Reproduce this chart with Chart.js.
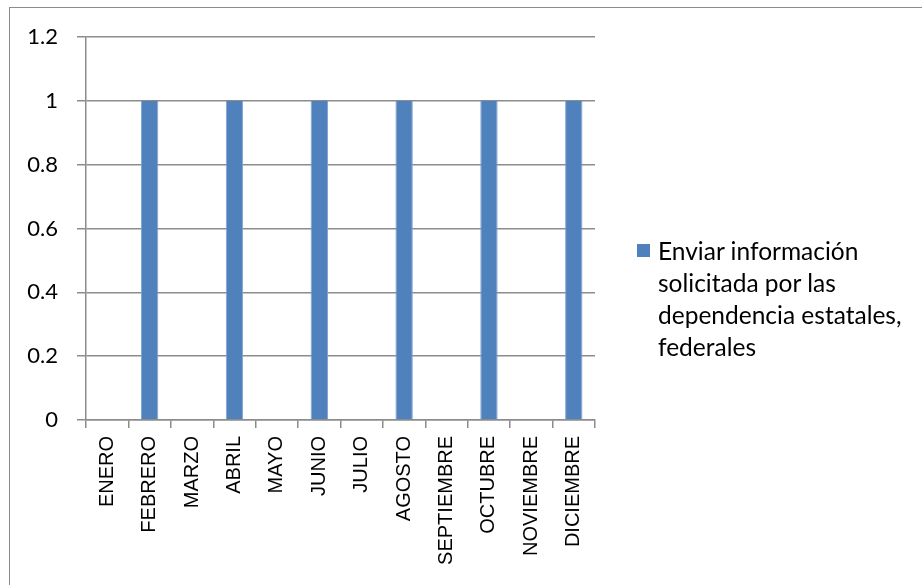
<!DOCTYPE html>
<html>
<head>
<meta charset="utf-8">
<script src="https://cdn.jsdelivr.net/npm/chart.js@4/dist/chart.umd.min.js"></script>
<style>
  html, body { margin: 0; padding: 0; background: #fff; }
  #wrap { position: relative; width: 922px; height: 585px; overflow: hidden; }
  #frame { position: absolute; left: 9px; top: 7px; width: 1000px; height: 700px;
           border-top: 1.5px solid #8c8c8c; border-left: 1.5px solid #8c8c8c; }
  #chart { position: absolute; left: 0; top: 0; }
  #legend { position: absolute; left: 637px; top: 235px; width: 280px;
            font-family: Lato, "Open Sans", sans-serif; font-size: 24.5px; line-height: 32px; color: #000; }
  #legend .item { position: relative; padding-left: 21px; }
  #legend .box { position: absolute; left: 0; top: 9px; width: 13px; height: 13px; }
</style>
</head>
<body>
<div id="wrap">
  <div id="frame"></div>
  <canvas id="chart" width="922" height="585"></canvas>
  <div id="legend"></div>
</div>
<script>
const months = ['ENERO', 'FEBRERO', 'MARZO', 'ABRIL', 'MAYO', 'JUNIO', 'JULIO',
  'AGOSTO', 'SEPTIEMBRE', 'OCTUBRE', 'NOVIEMBRE', 'DICIEMBRE'];
const seriesName = 'Enviar información solicitada por las dependencia estatales, federales';
const values = [0, 1, 0, 1, 0, 1, 0, 1, 0, 1, 0, 1];
const yTicks = [0, 0.2, 0.4, 0.6, 0.8, 1, 1.2];

const barColor = '#4f81bd';
const gridColor = '#8c8c8c';

const ctx = document.getElementById('chart').getContext('2d');

const chart = new Chart(ctx, {
  type: 'bar',
  data: {
    labels: months,
    datasets: [{
      label: seriesName,
      data: values,
      backgroundColor: barColor,
      borderColor: '#7fa3d2',
      borderWidth: { left: 1, right: 1, top: 0, bottom: 0 },
      categoryPercentage: 1,
      barPercentage: 0.41,
    }],
  },
  options: {
    responsive: false,
    animation: false,
    layout: { padding: { left: 20, right: 327, top: 37, bottom: 0 } },
    plugins: { legend: { display: false }, tooltip: { enabled: false } },
    scales: {
      y: {
        min: 0,
        max: 1.2,
        afterBuildTicks: (scale) => { scale.ticks = yTicks.map(v => ({ value: v })); },
        afterFit: (scale) => { scale.width = 66; },
        border: { display: true, color: gridColor, width: 1.5 },
        grid: { color: gridColor, lineWidth: 1.5, tickLength: 9, drawTicks: true },
        ticks: {
          color: '#000',
          padding: 19,
          font: { family: 'Lato, "Open Sans", sans-serif', size: 22 },
          callback: (v) => String(Math.round(v * 10) / 10),
        },
      },
      x: {
        afterFit: (scale) => { scale.height = 165; },
        border: { display: true, color: gridColor, width: 1.5 },
        grid: { display: true, drawOnChartArea: false, color: gridColor, lineWidth: 1.5, tickLength: 8, offset: true },
        ticks: {
          color: '#000',
          minRotation: 90,
          maxRotation: 90,
          autoSkip: false,
          padding: 8,
          font: { family: '"Liberation Sans", Arial, sans-serif', size: 20 },
        },
      },
    },
  },
});

// legend as real text built from the dataset
const legendEl = document.getElementById('legend');
chart.data.datasets.forEach((ds) => {
  const item = document.createElement('div');
  item.className = 'item';
  const box = document.createElement('span');
  box.className = 'box';
  box.style.background = ds.backgroundColor;
  item.appendChild(box);
  item.appendChild(document.createTextNode(ds.label));
  legendEl.appendChild(item);
});
</script>
</body>
</html>
